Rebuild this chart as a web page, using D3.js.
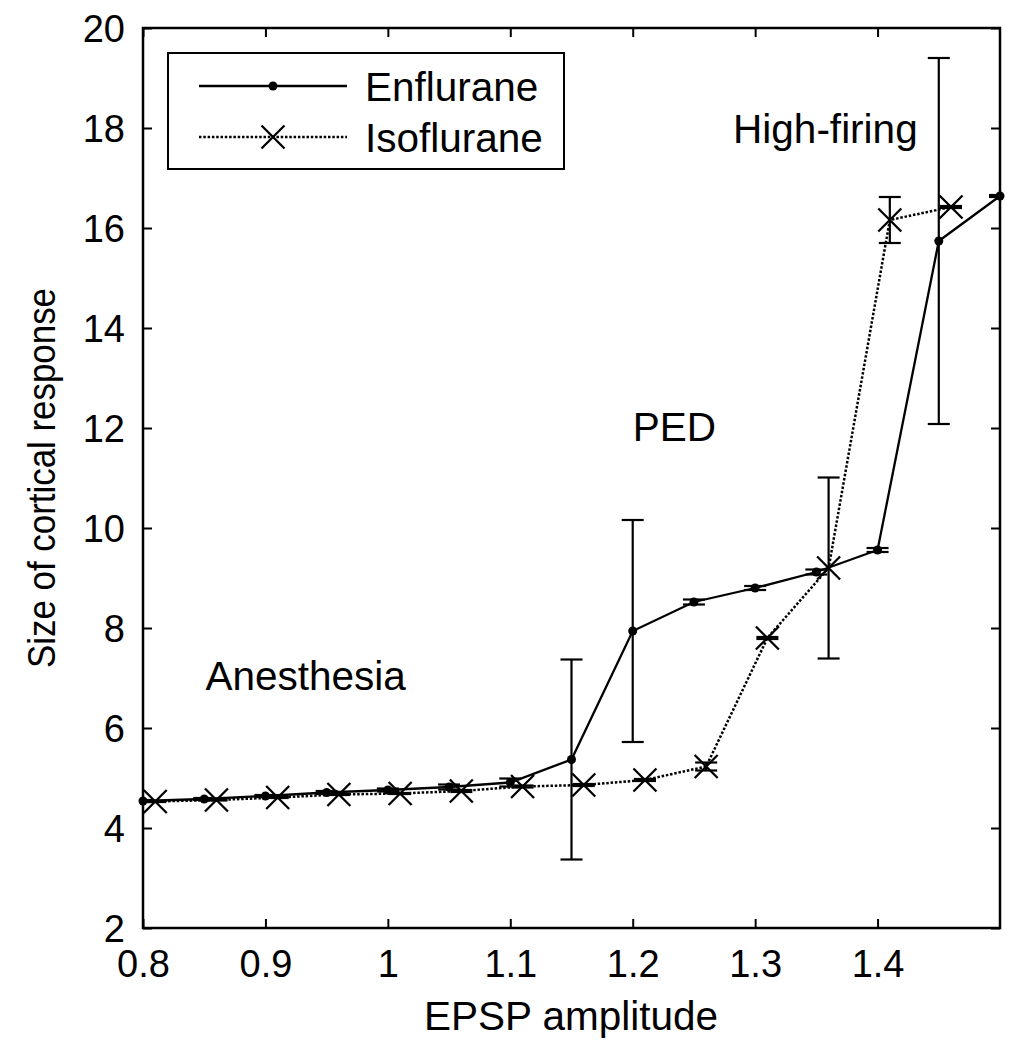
<!DOCTYPE html>
<html>
<head>
<meta charset="utf-8">
<script src="https://cdn.jsdelivr.net/npm/d3@7/dist/d3.min.js"></script>
<style>
  body { margin: 0; background: #fff; }
  text { font-family: "Liberation Sans", Arial, Helvetica, sans-serif; fill: #000; }
</style>
</head>
<body>
<script>
// ---- data ----
const enfX = [0.8, 0.85, 0.9, 0.95, 1.0, 1.05, 1.1, 1.15, 1.2, 1.25, 1.3, 1.35, 1.4, 1.45, 1.5];
const enfY = [4.54, 4.58, 4.64, 4.71, 4.76, 4.82, 4.91, 5.37, 7.94, 8.52, 8.8, 9.12, 9.56, 15.74, 16.64];
const enfErr = [0.02, 0.02, 0.02, 0.03, 0.03, 0.05, 0.08, 2.0, 2.22, 0.05, 0.04, 0.05, 0.04, 3.66, 0.02];

const isoX = [0.81, 0.86, 0.91, 0.96, 1.01, 1.06, 1.11, 1.16, 1.21, 1.26, 1.31, 1.36, 1.41, 1.46];
const isoY = [4.53, 4.56, 4.61, 4.67, 4.69, 4.74, 4.83, 4.86, 4.96, 5.23, 7.8, 9.2, 16.16, 16.42];
const isoErr = [0.01, 0.01, 0.01, 0.01, 0.01, 0.02, 0.02, 0.02, 0.02, 0.08, 0.02, 1.81, 0.46, 0.02];

const xTicks = [0.8, 0.9, 1.0, 1.1, 1.2, 1.3, 1.4];
const yTicks = [2, 4, 6, 8, 10, 12, 14, 16, 18, 20];
const seriesNames = ["Enflurane", "Isoflurane"];
const regionLabels = [
  {text: "Anesthesia", x: 0.851, y: 6.76},
  {text: "PED", x: 1.2, y: 11.75},
  {text: "High-firing", x: 1.282, y: 17.7}
];

// ---- layout ----
const W = 1021, H = 1050;
const L = 143, R = 1000, T = 28, B = 928;
const FS = 38, FL = 40.5;

const svg = d3.select("body").append("svg").attr("width", W).attr("height", H);

const x = d3.scaleLinear().domain([0.8, 1.5]).range([L, R]);
const y = d3.scaleLinear().domain([2, 20]).range([B, T]);

svg.append("clipPath").attr("id", "clip").append("rect")
  .attr("x", L).attr("y", T).attr("width", R - L).attr("height", B - T);

// axes (inward ticks, mirrored)
const fmtX = d => d3.format("")(+d.toFixed(1));
const axB = svg.append("g").attr("transform", `translate(0,${B})`)
  .call(d3.axisBottom(x).tickValues(xTicks).tickSizeInner(-9).tickSizeOuter(0).tickPadding(22).tickFormat(fmtX));
const axT = svg.append("g").attr("transform", `translate(0,${T})`)
  .call(d3.axisTop(x).tickValues(xTicks).tickSizeInner(-9).tickSizeOuter(0).tickFormat(""));
const axL = svg.append("g").attr("transform", `translate(${L},0)`)
  .call(d3.axisLeft(y).tickValues(yTicks).tickSizeInner(-9).tickSizeOuter(0).tickPadding(18));
const axR = svg.append("g").attr("transform", `translate(${R},0)`)
  .call(d3.axisRight(y).tickValues(yTicks).tickSizeInner(-9).tickSizeOuter(0).tickFormat(""));
[axB, axT, axL, axR].forEach(a => {
  a.select(".domain").remove();
  a.selectAll(".tick line").attr("stroke", "#000").attr("stroke-width", 2);
  a.selectAll("text").style("font-size", FS + "px").style("font-family", '"Liberation Sans", Arial, sans-serif');
});
axB.selectAll(".tick text").attr("dy", "0.71em");
axL.selectAll(".tick text").attr("dy", "0.36em");

svg.append("rect").attr("x", L).attr("y", T).attr("width", R - L).attr("height", B - T)
  .attr("fill", "none").attr("stroke", "#000").attr("stroke-width", 2.5);

// axis labels
svg.append("text").attr("x", 571).attr("y", 1030).attr("text-anchor", "middle")
  .style("font-size", FL + "px").text("EPSP amplitude");
svg.append("text").attr("transform", `translate(55,478) rotate(-90)`).attr("text-anchor", "middle")
  .attr("textLength", 380).attr("lengthAdjust", "spacingAndGlyphs")
  .style("font-size", "39px").text("Size of cortical response");

// region labels
svg.selectAll(".rlab").data(regionLabels).enter().append("text")
  .attr("x", d => x(d.x)).attr("y", d => y(d.y)).style("font-size", FL + "px").text(d => d.text);

const enf = enfX.map((v, i) => ({x: v, y: enfY[i], e: enfErr[i]}));
const iso = isoX.map((v, i) => ({x: v, y: isoY[i], e: isoErr[i]}));

const line = d3.line().x(d => x(d.x)).y(d => y(d.y));
const cap = 11;
const plot = svg.append("g").attr("clip-path", "url(#clip)");

function errorBars(data) {
  const g = plot.append("g").attr("stroke", "#000").attr("stroke-width", 2.2);
  data.forEach(d => {
    g.append("line").attr("x1", x(d.x)).attr("x2", x(d.x)).attr("y1", y(d.y - d.e)).attr("y2", y(d.y + d.e));
    g.append("line").attr("x1", x(d.x) - cap).attr("x2", x(d.x) + cap).attr("y1", y(d.y - d.e)).attr("y2", y(d.y - d.e));
    g.append("line").attr("x1", x(d.x) - cap).attr("x2", x(d.x) + cap).attr("y1", y(d.y + d.e)).attr("y2", y(d.y + d.e));
  });
}
errorBars(enf);
errorBars(iso);

plot.append("path").datum(iso).attr("d", line).attr("fill", "none").attr("stroke", "#000")
  .attr("stroke-width", 2.5).attr("stroke-dasharray", "2.5,1.8");
plot.append("path").datum(enf).attr("d", line).attr("fill", "none").attr("stroke", "#000")
  .attr("stroke-width", 2.3);

const xm = 11.5;
function xMark(g, cx, cy) {
  g.append("path").attr("d", `M${cx - xm},${cy - xm}L${cx + xm},${cy + xm}M${cx - xm},${cy + xm}L${cx + xm},${cy - xm}`)
    .attr("stroke", "#000").attr("stroke-width", 2.3).attr("fill", "none");
}
const mg = svg.append("g");
iso.forEach(d => xMark(mg, x(d.x), y(d.y)));
svg.append("g").selectAll("circle").data(enf).enter().append("circle")
  .attr("cx", d => x(d.x)).attr("cy", d => y(d.y)).attr("r", 4.5).attr("fill", "#000");

// legend
const lg = svg.append("g");
lg.append("rect").attr("x", 168).attr("y", 53).attr("width", 396).attr("height", 116)
  .attr("fill", "#fff").attr("stroke", "#000").attr("stroke-width", 2);
const ly = [86, 137];
lg.append("line").attr("x1", 199).attr("x2", 347).attr("y1", ly[0]).attr("y2", ly[0]).attr("stroke", "#000").attr("stroke-width", 2.3);
lg.append("circle").attr("cx", 273).attr("cy", ly[0]).attr("r", 4.5).attr("fill", "#000");
lg.append("line").attr("x1", 199).attr("x2", 347).attr("y1", ly[1]).attr("y2", ly[1]).attr("stroke", "#000")
  .attr("stroke-width", 2.5).attr("stroke-dasharray", "2.5,1.8");
xMark(lg, 273, ly[1]);
lg.selectAll(".lt").data(seriesNames).enter().append("text")
  .attr("x", 365).attr("y", (d, i) => ly[i]).attr("dy", "0.36em").style("font-size", FL + "px").text(d => d);
</script>
</body>
</html>
